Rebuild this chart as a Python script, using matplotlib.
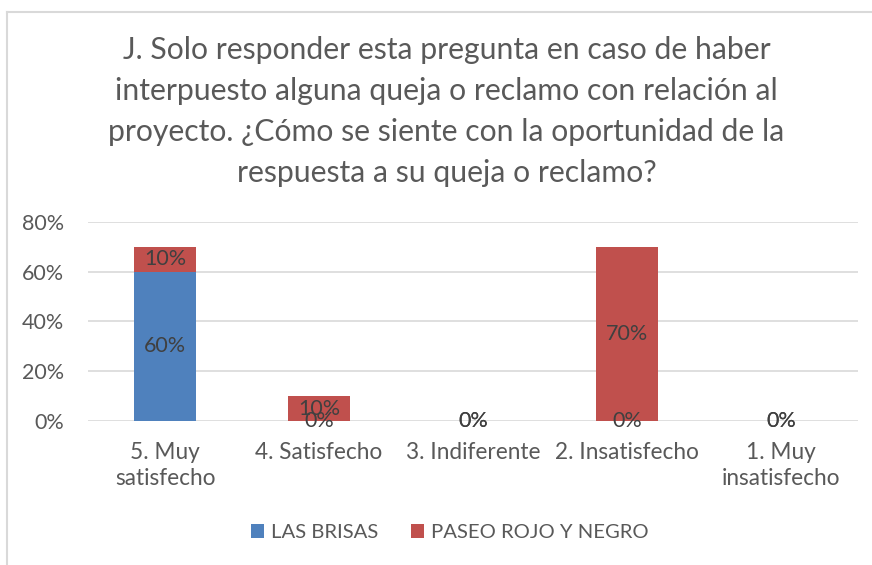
import matplotlib.pyplot as plt
from matplotlib.lines import Line2D
import numpy as np

plt.rcParams["font.family"] = ["Lato", "DejaVu Sans"]

categories = ["5. Muy\nsatisfecho", "4. Satisfecho", "3. Indiferente",
              "2. Insatisfecho", "1. Muy\ninsatisfecho"]
las_brisas = [0.60, 0.0, 0.0, 0.0, 0.0]
paseo_rojo_negro = [0.10, 0.10, 0.0, 0.70, 0.0]
series_names = ["LAS BRISAS", "PASEO ROJO Y NEGRO"]
y_ticks = [0.0, 0.2, 0.4, 0.6, 0.8]

title = ("J. Solo responder esta pregunta en caso de haber\n"
         "interpuesto alguna queja o reclamo con relación al\n"
         "proyecto. ¿Cómo se siente con la oportunidad de la\n"
         "respuesta a su queja o reclamo?")

blue = "#4F81BD"
red = "#C0504D"
label_col = "#404040"
tick_col = "#595959"

fig = plt.figure(figsize=(8.72, 5.65), dpi=100)
ax = fig.add_axes([0.101, 0.2549, 0.883, 0.3522])

x = np.arange(len(categories))
b1 = ax.bar(x, las_brisas, width=0.4, color=blue, label=series_names[0], zorder=2)
b2 = ax.bar(x, paseo_rojo_negro, width=0.4, bottom=las_brisas, color=red,
            label=series_names[1], zorder=2)

fmt = lambda v: f"{v * 100:.0f}%"
ax.bar_label(b1, labels=[fmt(v) for v in las_brisas], label_type="center",
             color=label_col, fontsize=15.5)
ax.bar_label(b2, labels=[fmt(v) for v in paseo_rojo_negro], label_type="center",
             color=label_col, fontsize=15.5)

ax.set_xlim(-0.5, len(categories) - 0.5)
ax.set_ylim(0, 0.8)
ax.set_yticks(y_ticks)
ax.set_yticklabels([fmt(v) for v in y_ticks])
ax.set_xticks(x)
ax.set_xticklabels(categories, linespacing=1.3)
ax.tick_params(axis="both", length=0, labelcolor=tick_col)
ax.tick_params(axis="x", pad=15, labelsize=16.3)
ax.tick_params(axis="y", pad=17, labelsize=15.5)
ax.grid(axis="y", color="#d9d9d9", linewidth=1.2, zorder=0)
for s in ax.spines.values():
    s.set_visible(False)

fig.text(0.512, 0.936, title, ha="center", va="top", fontsize=21.7,
         color=tick_col, linespacing=1.56)

ax.legend(loc="center", bbox_to_anchor=(0.516, 0.057), bbox_transform=fig.transFigure,
          ncol=2, frameon=False, fontsize=14.6, labelcolor=tick_col,
          handlelength=0.65, handleheight=0.65, columnspacing=1.6, handletextpad=0.35)

# chart frame (partially cropped in the reference)
fig.add_artist(Line2D([0.008, 0.008], [0.0, 0.979], color="#d9d9d9", lw=1.5))
fig.add_artist(Line2D([0.008, 1.0], [0.979, 0.979], color="#d9d9d9", lw=1.5))

fig.savefig("out.png", dpi=100)
